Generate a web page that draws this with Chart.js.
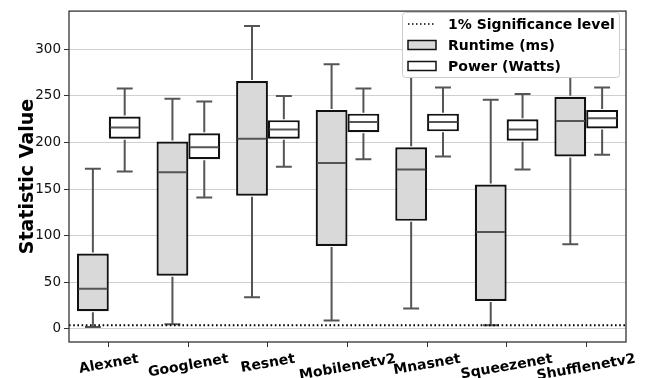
<!DOCTYPE html>
<html>
<head>
<meta charset="utf-8">
<script src="https://cdn.jsdelivr.net/npm/chart.js@4"></script>
<style>
  html, body { margin: 0; padding: 0; background: #fff; }
  #wrap { width: 647px; height: 378px; }
</style>
</head>
<body>
<div id="wrap"><canvas id="chart" width="647" height="378"></canvas></div>
<script>
const categories = ["Alexnet", "Googlenet", "Resnet", "Mobilenetv2", "Mnasnet", "Squeezenet", "Shufflenetv2"];
const yTicks = [0, 50, 100, 150, 200, 250, 300];
const sigLevel = 4;

// runtime (ms)
const runtimeMin = [2, 5, 34, 9, 22, 4, 91];
const runtimeQ1 = [19, 57, 143, 89, 116, 30, 185];
const runtimeMed = [43, 168, 204, 178, 171, 104, 223];
const runtimeQ3 = [81, 201, 266, 235, 195, 155, 249];
const runtimeMax = [172, 247, 325, 284, 290, 246, 300];

// power (watts)
const powerMin = [169, 141, 174, 182, 185, 171, 187];
const powerQ1 = [204, 182, 204, 211, 212, 202, 215];
const powerMed = [216, 195, 214, 222, 222, 214, 226];
const powerQ3 = [228, 210, 224, 231, 231, 225, 235];
const powerMax = [258, 244, 250, 258, 259, 252, 259];

const FONT = "'DejaVu Sans', sans-serif";
const EDGE = "#111111";
const WHISK = "#555555";
const RUNTIME_FILL = "#d9d9d9";

const stats = [
  { min: runtimeMin, med: runtimeMed, max: runtimeMax },
  { min: powerMin, med: powerMed, max: powerMax },
];

const boxPlugin = {
  id: "boxes",
  afterDatasetsDraw(chart) {
    const ctx = chart.ctx;
    const y = chart.scales.y;
    const area = chart.chartArea;
    ctx.save();
    ctx.beginPath();
    ctx.rect(area.left, area.top, area.right - area.left, area.bottom - area.top);
    ctx.clip();

    stats.forEach((s, di) => {
      const meta = chart.getDatasetMeta(di);
      const q = chart.data.datasets[di].data;
      meta.data.forEach((bar, i) => {
        const cx = bar.x;
        const w = bar.width;
        const cap = w / 4;
        ctx.strokeStyle = WHISK;
        ctx.lineWidth = 2;
        ctx.beginPath();
        // whiskers
        ctx.moveTo(cx, y.getPixelForValue(q[i][1]) - 1);
        ctx.lineTo(cx, y.getPixelForValue(s.max[i]));
        ctx.moveTo(cx, y.getPixelForValue(q[i][0]) + 1);
        ctx.lineTo(cx, y.getPixelForValue(s.min[i]));
        // caps
        ctx.moveTo(cx - cap, y.getPixelForValue(s.max[i]));
        ctx.lineTo(cx + cap, y.getPixelForValue(s.max[i]));
        ctx.moveTo(cx - cap, y.getPixelForValue(s.min[i]));
        ctx.lineTo(cx + cap, y.getPixelForValue(s.min[i]));
        // median
        ctx.moveTo(cx - w / 2 + 1.5, y.getPixelForValue(s.med[i]));
        ctx.lineTo(cx + w / 2 - 1.5, y.getPixelForValue(s.med[i]));
        ctx.stroke();
      });
    });

    // significance line
    const ys = y.getPixelForValue(sigLevel);
    ctx.strokeStyle = "#000";
    ctx.lineWidth = 2;
    ctx.setLineDash([1.6, 2.6]);
    ctx.beginPath();
    ctx.moveTo(area.left, ys);
    ctx.lineTo(area.right, ys);
    ctx.stroke();
    ctx.restore();
  },
  afterDraw(chart) {
    const ctx = chart.ctx;
    const area = chart.chartArea;
    const x = chart.scales.x;

    // frame
    ctx.save();
    ctx.strokeStyle = "#333";
    ctx.lineWidth = 1.3;
    ctx.strokeRect(area.left, area.top, area.right - area.left, area.bottom - area.top);

    // rotated x labels
    const ang = 10 * Math.PI / 180;
    ctx.font = "bold 14px " + FONT;
    ctx.fillStyle = "#000";
    ctx.textAlign = "center";
    ctx.textBaseline = "middle";
    categories.forEach((c, i) => {
      const w = ctx.measureText(c).width;
      const h = 16;
      const H = w * Math.sin(ang) + h * Math.cos(ang);
      const cx = x.getPixelForValue(i);
      const cy = area.bottom + 9 + H / 2;
      ctx.save();
      ctx.translate(cx, cy);
      ctx.rotate(-ang);
      ctx.fillText(c, 0, 0);
      ctx.restore();
    });

    // legend
    const lx = 402.5, ly = 12.5, lw = 217, lh = 65;
    ctx.fillStyle = "#fff";
    ctx.strokeStyle = "#cccccc";
    ctx.lineWidth = 1;
    ctx.beginPath();
    ctx.roundRect(lx, ly, lw, lh, 3);
    ctx.fill();
    ctx.stroke();

    const rows = [
      { label: "1% Significance level", type: "line" },
      { label: "Runtime (ms)", type: "box", fill: RUNTIME_FILL },
      { label: "Power (Watts)", type: "box", fill: "#ffffff" },
    ];
    ctx.font = "bold 14px " + FONT;
    ctx.textAlign = "left";
    ctx.textBaseline = "middle";
    rows.forEach((r, k) => {
      const ry = 24 + k * 21;
      if (r.type === "line") {
        ctx.strokeStyle = "#000";
        ctx.lineWidth = 1.5;
        ctx.setLineDash([1.5, 2.5]);
        ctx.beginPath();
        ctx.moveTo(408, ry);
        ctx.lineTo(436, ry);
        ctx.stroke();
        ctx.setLineDash([]);
      } else {
        ctx.fillStyle = r.fill;
        ctx.strokeStyle = EDGE;
        ctx.lineWidth = 1.5;
        ctx.fillRect(408, ry - 4.5, 28, 9);
        ctx.strokeRect(408, ry - 4.5, 28, 9);
      }
      ctx.fillStyle = "#000";
      ctx.fillText(r.label, 448, ry + 1);
    });
    ctx.restore();
  },
};

new Chart(document.getElementById("chart").getContext("2d"), {
  type: "bar",
  data: {
    labels: categories,
    datasets: [
      {
        label: "Runtime (ms)",
        data: runtimeQ1.map((v, i) => [v, runtimeQ3[i]]),
        backgroundColor: RUNTIME_FILL,
        borderColor: EDGE,
        borderWidth: 2.2,
        borderSkipped: false,
      },
      {
        label: "Power (Watts)",
        data: powerQ1.map((v, i) => [v, powerQ3[i]]),
        backgroundColor: "#ffffff",
        borderColor: EDGE,
        borderWidth: 2.2,
        borderSkipped: false,
      },
    ],
  },
  options: {
    responsive: false,
    animation: false,
    events: [],
    layout: { padding: { top: 5, right: 21, left: 0, bottom: 0 } },
    categoryPercentage: 0.8,
    barPercentage: 1.0,
    scales: {
      x: {
        afterFit: (s) => { s.height = 36; },
        grid: { display: true, offset: false, drawOnChartArea: false, drawTicks: true, tickLength: 5, tickColor: "#333" },
        border: { display: false },
        ticks: { display: false },
      },
      y: {
        min: -14,
        max: 341,
        afterFit: (s) => { s.width = 69; },
        afterBuildTicks: (s) => { s.ticks = yTicks.map((v) => ({ value: v })); },
        grid: { color: "#d0d0d0", lineWidth: 1, tickLength: 5, tickColor: "#333" },
        border: { display: false },
        ticks: { color: "#111", padding: 3, font: { family: FONT, size: 13.5 } },
        title: {
          display: true,
          text: "Statistic Value",
          color: "#000",
          font: { family: FONT, size: 19, weight: "bold", lineHeight: 2.5 },
        },
      },
    },
    plugins: {
      legend: { display: false },
      tooltip: { enabled: false },
    },
  },
  plugins: [boxPlugin],
});
</script>
</body>
</html>
